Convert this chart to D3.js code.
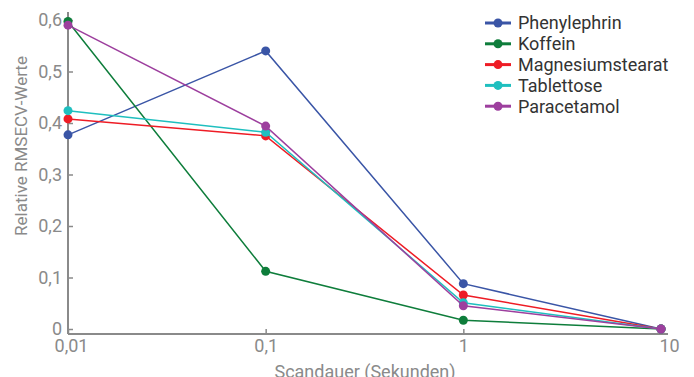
<!DOCTYPE html>
<html>
<head>
<meta charset="utf-8">
<script src="https://cdn.jsdelivr.net/npm/d3@7"></script>
<style>
  body { margin: 0; background: #fff; }
  svg { font-family: Roboto, sans-serif; }
</style>
</head>
<body>
<div id="chart"></div>
<script>
var scanTimes = [0.01, 0.1, 1, 10];
var seriesNames = ["Phenylephrin", "Koffein", "Magnesiumstearat", "Tablettose", "Paracetamol"];
var seriesColors = ["#3a55a6", "#0e7d3b", "#ee1c25", "#1fbfbf", "#9d3f9e"];
var phenylephrin = [0.377, 0.540, 0.088, 0.0];
var koffein = [0.597, 0.112, 0.017, 0.0];
var magnesiumstearat = [0.408, 0.375, 0.066, 0.0];
var tablettose = [0.424, 0.382, 0.051, 0.0];
var paracetamol = [0.590, 0.394, 0.045, 0.0];
var yTicks = [0, 0.1, 0.2, 0.3, 0.4, 0.5, 0.6];
var yTickLabels = ["0", "0,1", "0,2", "0,3", "0,4", "0,5", "0,6"];
var xTickLabels = ["0,01", "0,1", "1", "10"];

var allValues = [phenylephrin, koffein, magnesiumstearat, tablettose, paracetamol];

window.onload = function(){
    var width = 694, height = 377;
    var svg = d3.select("#chart").append("svg")
        .attr("width", width).attr("height", height);

    var x = d3.scaleLog().domain([0.01, 10]).range([68, 661]);
    var y = d3.scaleLinear().domain([0, 0.6]).range([329, 20]);
    var gray = "#8a8a8a";

    // y axis
    var yAxis = svg.append("g")
        .attr("transform", "translate(68,0)")
        .call(d3.axisRight(y).tickValues(yTicks).tickSize(5)
            .tickFormat(function(d, i){ return yTickLabels[i]; }));
    yAxis.select(".domain").attr("d", "M0,12V334").attr("stroke", gray).attr("stroke-width", 2);
    yAxis.selectAll(".tick line").attr("stroke", gray).attr("stroke-width", 1.5);
    yAxis.selectAll(".tick text")
        .attr("x", -6).attr("text-anchor", "end")
        .attr("fill", gray).style("font-size", "18px").style("font-family", "Roboto, sans-serif");

    // x axis
    var xAxis = svg.append("g")
        .attr("transform", "translate(0,334)")
        .call(d3.axisTop(x).tickValues(scanTimes).tickSize(5)
            .tickFormat(function(d, i){ return xTickLabels[i]; }));
    xAxis.select(".domain").attr("d", "M68,0H668").attr("stroke", gray).attr("stroke-width", 2);
    xAxis.selectAll(".tick line").attr("stroke", gray).attr("stroke-width", 1.5);
    xAxis.selectAll(".tick text")
        .attr("y", 18).attr("dy", null)
        .attr("fill", gray).style("font-size", "18px").style("font-family", "Roboto, sans-serif");
    xAxis.selectAll(".tick text").filter(function(d){ return d === 0.01; }).attr("dx", 3);
    xAxis.selectAll(".tick text").filter(function(d){ return d === 10; }).attr("dx", 8);

    // axis labels
    svg.append("text")
        .attr("transform", "translate(27,146) rotate(-90)")
        .attr("text-anchor", "middle")
        .attr("fill", gray).style("font-size", "17px")
        .text("Relative RMSECV-Werte");
    svg.append("text")
        .attr("x", 365).attr("y", 378)
        .attr("text-anchor", "middle")
        .attr("fill", gray).style("font-size", "18px")
        .text("Scandauer (Sekunden)");

    var line = d3.line()
        .x(function(d, i){ return x(scanTimes[i]); })
        .y(function(d){ return y(d); });

    allValues.forEach(function(vals, k){
        svg.append("path")
            .datum(vals)
            .attr("d", line)
            .attr("fill", "none")
            .attr("stroke", seriesColors[k])
            .attr("stroke-width", 1.5);
        svg.selectAll(".dot" + k)
            .data(vals)
            .enter().append("circle")
            .attr("cx", function(d, i){ return x(scanTimes[i]); })
            .attr("cy", function(d){ return y(d); })
            .attr("r", 4.5)
            .attr("fill", seriesColors[k]);
    });

    // legend
    var legend = svg.append("g").attr("transform", "translate(485,23)");
    seriesNames.forEach(function(name, k){
        var g = legend.append("g").attr("transform", "translate(0," + (k * 20.8) + ")");
        g.append("line").attr("x1", 0).attr("x2", 26).attr("y1", 0).attr("y2", 0)
            .attr("stroke", seriesColors[k]).attr("stroke-width", 3);
        g.append("circle").attr("cx", 13).attr("cy", 0).attr("r", 4.5).attr("fill", seriesColors[k]);
        g.append("text").attr("x", 33).attr("y", 0).attr("dy", "0.35em")
            .attr("fill", "#333").style("font-size", "18px").text(name);
    });
};
</script>
</body>
</html>
